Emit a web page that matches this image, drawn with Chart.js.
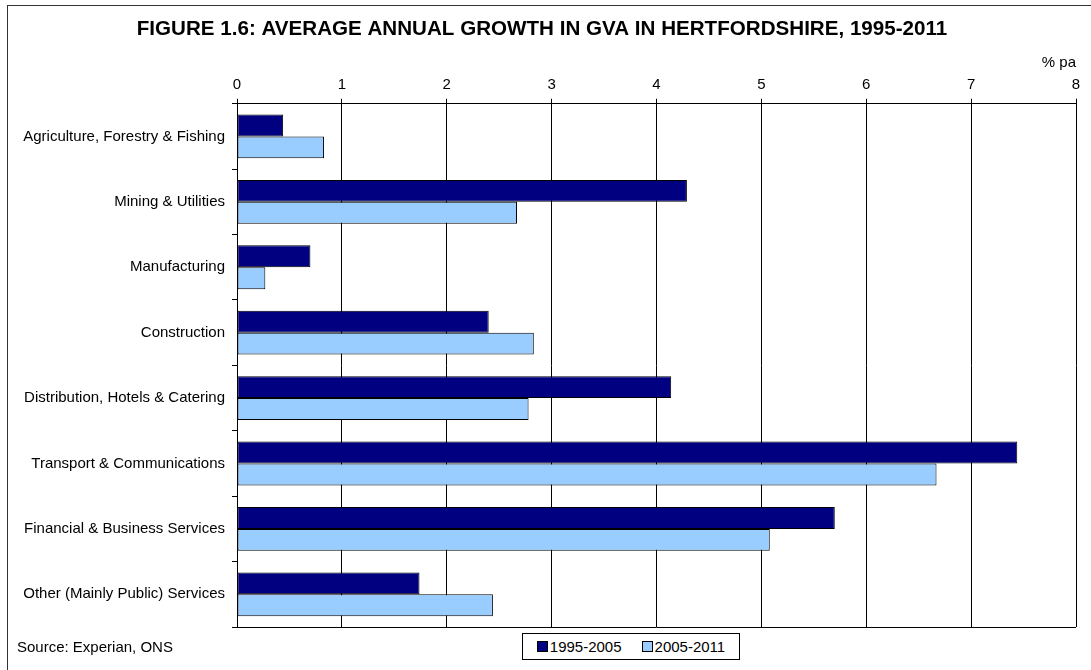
<!DOCTYPE html>
<html>
<head>
<meta charset="utf-8">
<script src="https://cdn.jsdelivr.net/npm/chart.js@4/dist/chart.umd.min.js"></script>
<style>
  html, body { margin: 0; padding: 0; background: #fff; }
  #wrap { position: relative; width: 1091px; height: 670px; overflow: hidden; font-family: Arial, "Liberation Sans", sans-serif; }
  #frame { position: absolute; left: 7px; top: 5px; right: -10px; bottom: -10px; border-left: 1px solid #333; border-top: 1px solid #333; }
  #legend { position: absolute; left: 522px; top: 633px; width: 218px; height: 27px; border: 1px solid #000; background: #fff;
            display: flex; align-items: center; justify-content: center; gap: 20px; font-size: 15px; color: #000; box-sizing: border-box; }
  #legend span.box { display: inline-block; width: 9px; height: 9px; border: 1px solid #000; margin-right: 2px; vertical-align: 0px; }
  #source { position: absolute; left: 17px; top: 638px; font-size: 15px; color: #000; }
</style>
</head>
<body>
<div id="wrap">
  <canvas id="chart" width="1091" height="670"></canvas>
  <div id="frame"></div>
  <div id="legend"></div>
  <div id="source">Source: Experian, ONS</div>
</div>
<script>
const categories = [
  'Agriculture, Forestry & Fishing',
  'Mining & Utilities',
  'Manufacturing',
  'Construction',
  'Distribution, Hotels & Catering',
  'Transport & Communications',
  'Financial & Business Services',
  'Other (Mainly Public) Services'
];
const seriesNames = ['1995-2005', '2005-2011'];
const growth1995to2005 = [0.44, 4.29, 0.70, 2.40, 4.14, 7.44, 5.70, 1.74];
const growth2005to2011 = [0.83, 2.67, 0.27, 2.83, 2.78, 6.67, 5.08, 2.44];
const seriesColors = ['#000080', '#99CCFF'];
const xTicks = [0, 1, 2, 3, 4, 5, 6, 7, 8];

const FONT = 'Arial, "Liberation Sans", sans-serif';

// line along the bottom of the plot area
const plotBottom = {
  id: 'plotBottom',
  afterDraw(chart) {
    const { ctx, chartArea } = chart;
    ctx.save();
    ctx.strokeStyle = '#000';
    ctx.lineWidth = 1;
    ctx.beginPath();
    ctx.moveTo(chartArea.left, Math.round(chartArea.bottom) + 0.5);
    ctx.lineTo(chartArea.right, Math.round(chartArea.bottom) + 0.5);
    ctx.stroke();
    ctx.restore();
  }
};

const ctx = document.getElementById('chart').getContext('2d');
const chart = new Chart(ctx, {
  type: 'bar',
  data: {
    labels: categories,
    datasets: [
      {
        label: seriesNames[0],
        data: growth1995to2005,
        backgroundColor: seriesColors[0],
        borderColor: '#000',
        borderWidth: 1,
        borderSkipped: false
      },
      {
        label: seriesNames[1],
        data: growth2005to2011,
        backgroundColor: seriesColors[1],
        borderColor: '#000',
        borderWidth: 1,
        borderSkipped: false
      }
    ]
  },
  options: {
    indexAxis: 'y',
    responsive: false,
    animation: false,
    datasets: {
      bar: { categoryPercentage: 0.67, barPercentage: 1.0 }
    },
    layout: { padding: { top: 6, left: 8, right: 15, bottom: 43 } },
    plugins: {
      legend: { display: false },
      tooltip: { enabled: false },
      title: {
        display: true,
        text: 'FIGURE 1.6: AVERAGE ANNUAL GROWTH IN GVA IN HERTFORDSHIRE, 1995-2011',
        color: '#000',
        font: { family: FONT, size: 20.6, weight: 'bold' },
        padding: { top: 11, bottom: 6 }
      }
    },
    scales: {
      x: {
        position: 'top',
        min: 0,
        max: 8,
        afterBuildTicks: (scale) => { scale.ticks = xTicks.map(v => ({ value: v })); },
        afterFit: (scale) => { scale.height = 56; },
        ticks: { color: '#000', font: { family: FONT, size: 15 }, padding: 5 },
        grid: { color: '#000', lineWidth: 1, tickLength: 5 },
        border: { color: '#000' },
        title: {
          display: true,
          text: '% pa',
          align: 'end',
          color: '#000',
          font: { family: FONT, size: 15 },
          padding: { top: 6, bottom: 0 }
        }
      },
      y: {
        afterFit: (scale) => { scale.width = 229; },
        ticks: { color: '#000', font: { family: FONT, size: 15 }, padding: 7 },
        grid: { display: true, drawOnChartArea: false, color: '#000', tickLength: 5, offset: true },
        border: { color: '#000' }
      }
    }
  },
  plugins: [plotBottom]
});

// legend built from the datasets
const legendEl = document.getElementById('legend');
legendEl.innerHTML = chart.data.datasets.map(ds =>
  `<div><span class="box" style="background:${ds.backgroundColor}"></span>${ds.label}</div>`
).join('');
</script>
</body>
</html>
